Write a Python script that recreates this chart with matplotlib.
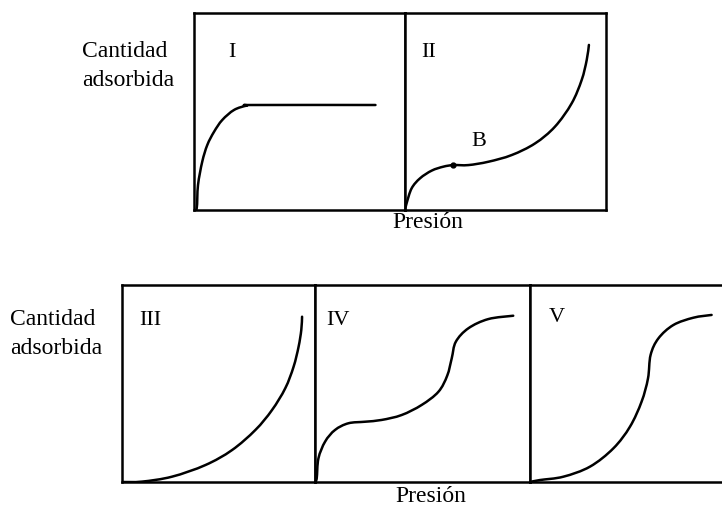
import matplotlib
matplotlib.use("Agg")
import matplotlib.pyplot as plt
from matplotlib.path import Path
from matplotlib.patches import PathPatch

# curves, as fractions of each panel (pressure, amount)
x_I = [0.0, 0.013, 0.019, 0.039, 0.063, 0.095, 0.134, 0.19, 0.25, 0.29, 0.86]
y_I = [0.0, 0.01, 0.127, 0.245, 0.33, 0.397, 0.457, 0.508, 0.53, 0.533, 0.533]

x_II = [0.0, 0.008, 0.033, 0.075, 0.133, 0.191, 0.241, 0.315, 0.415, 0.531,
        0.647, 0.746, 0.829, 0.879, 0.904, 0.915]
y_II = [0.0, 0.034, 0.11, 0.161, 0.2, 0.22, 0.228, 0.228, 0.245, 0.279,
        0.338, 0.423, 0.541, 0.66, 0.761, 0.838]
b_point = (0.241, 0.228)

x_III = [0.0, 0.104, 0.259, 0.432, 0.57, 0.691, 0.777, 0.846, 0.889, 0.915, 0.929, 0.933]
y_III = [0.0, 0.002, 0.027, 0.086, 0.162, 0.264, 0.365, 0.476, 0.585, 0.687, 0.772, 0.839]

x_IV = [0.0, 0.008, 0.016, 0.047, 0.093, 0.155, 0.233, 0.31, 0.403, 0.496,
        0.574, 0.615, 0.636, 0.655, 0.713, 0.806, 0.922]
y_IV = [0.0, 0.019, 0.12, 0.205, 0.264, 0.298, 0.306, 0.315, 0.34, 0.391,
        0.458, 0.54, 0.628, 0.712, 0.78, 0.827, 0.844]

x_V = [0.0, 0.05, 0.167, 0.3, 0.417, 0.5, 0.558, 0.59, 0.603, 0.642, 0.717, 0.817, 0.908]
y_V = [0.0, 0.01, 0.027, 0.078, 0.171, 0.281, 0.408, 0.526, 0.645, 0.729, 0.797, 0.834, 0.848]

labels = ["I", "II", "III", "IV", "V"]
ylabel_text = "Cantidad\nadsorbida"
xlabel_text = "Presión"

W, H = 722, 505
plt.rcParams['font.family'] = ['Liberation Serif', 'DejaVu Serif']
fig = plt.figure(figsize=(W / 100, H / 100), dpi=100)


def panel(left, right, top, bottom):
    # pixel box -> figure fraction
    ax = fig.add_axes([left / W, 1 - bottom / H, (right - left) / W, (bottom - top) / H])
    ax.set_xlim(0, 1)
    ax.set_ylim(0, 1)
    ax.set_xticks([])
    ax.set_yticks([])
    for s in ax.spines.values():
        s.set_linewidth(1.8)
    return ax


def smooth_curve(ax, xs, ys):
    # bezier path through the read points (catmull-rom style handles), so it is drawn round
    pts = list(zip(xs, ys))
    verts = [pts[0]]
    codes = [Path.MOVETO]
    for i in range(len(pts) - 1):
        p0 = pts[i - 1] if i > 0 else pts[i]
        p1, p2 = pts[i], pts[i + 1]
        p3 = pts[i + 2] if i + 2 < len(pts) else p2
        c1 = (p1[0] + (p2[0] - p0[0]) / 6, p1[1] + (p2[1] - p0[1]) / 6)
        c2 = (p2[0] - (p3[0] - p1[0]) / 6, p2[1] - (p3[1] - p1[1]) / 6)
        verts += [c1, c2, p2]
        codes += [Path.CURVE4] * 3
    ax.add_patch(PathPatch(Path(verts, codes), fill=False, lw=1.8, ec='black',
                           capstyle='round', joinstyle='round'))


num_kw = dict(fontsize=16, ha='center', va='center')

# top row
ax1 = panel(194, 405, 13, 210)
smooth_curve(ax1, x_I, y_I)
ax1.text(0.18, 0.80, labels[0], transform=ax1.transAxes, **num_kw)

ax2 = panel(405, 606, 13, 210)
smooth_curve(ax2, x_II, y_II)
ax2.plot(*b_point, 'o', color='black', ms=3.5)
ax2.text(0.116, 0.80, labels[1], transform=ax2.transAxes, **num_kw)
ax2.text(0.365, 0.347, "B", transform=ax2.transAxes, **num_kw)

# bottom row
ax3 = panel(122, 315, 285, 482)
smooth_curve(ax3, x_III, y_III)
ax3.text(0.147, 0.82, labels[2], transform=ax3.transAxes, **num_kw)

ax4 = panel(315, 530, 285, 482)
smooth_curve(ax4, x_IV, y_IV)
ax4.text(0.108, 0.82, labels[3], transform=ax4.transAxes, **num_kw)

ax5 = panel(530, 730, 285, 482)
ax5.spines['right'].set_visible(False)
smooth_curve(ax5, x_V, y_V)
ax5.text(0.133, 0.835, labels[4], transform=ax5.transAxes, **num_kw)

# axis words
fig.text(82 / W, 1 - 66 / H, ylabel_text, fontsize=17, ha='left', va='center', linespacing=1.55)
fig.text(10 / W, 1 - 334 / H, ylabel_text, fontsize=17, ha='left', va='center', linespacing=1.45)
fig.text(428 / W, 1 - 222 / H, xlabel_text, fontsize=17, ha='center', va='center')
fig.text(431 / W, 1 - 496 / H, xlabel_text, fontsize=17, ha='center', va='center')

fig.savefig("out.png", dpi=100)
